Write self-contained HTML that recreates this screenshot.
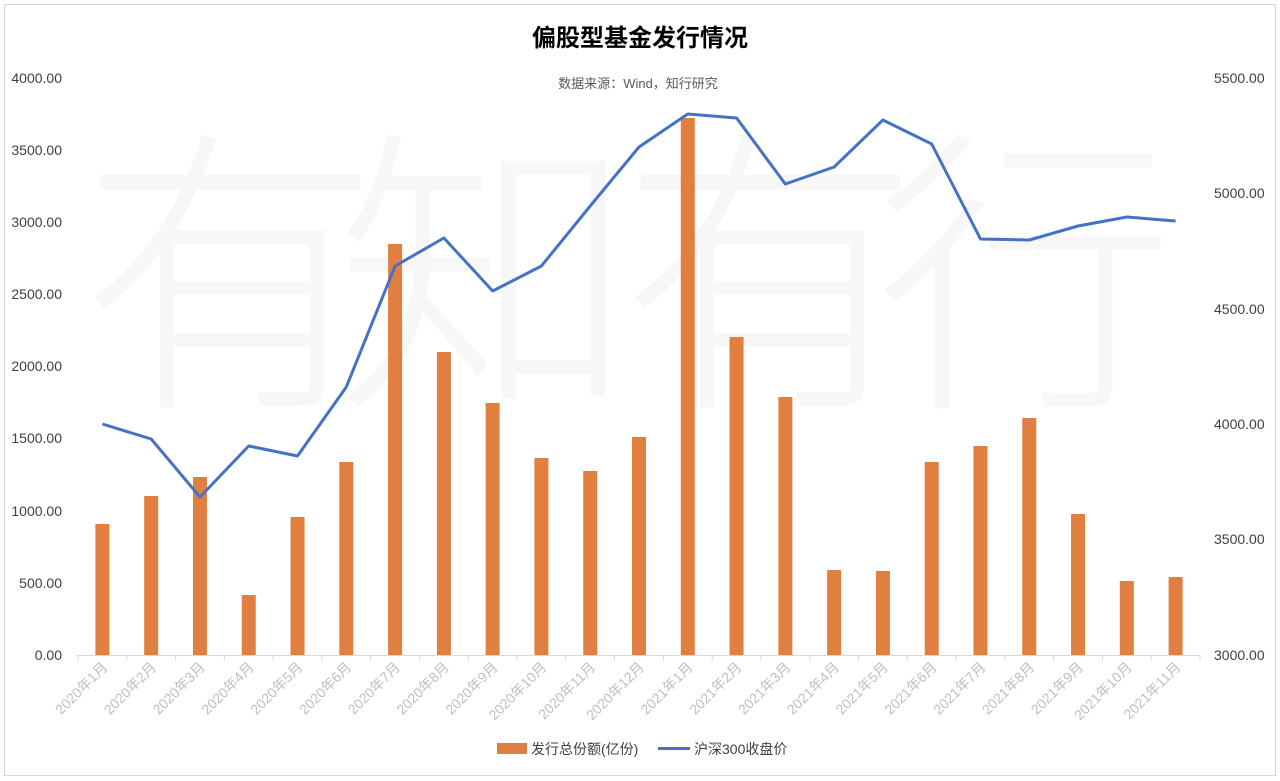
<!DOCTYPE html>
<html><head><meta charset="utf-8"><style>body{margin:0;background:#fff}svg{display:block}text{font-family:"Liberation Sans","Noto Sans CJK SC",sans-serif}</style></head><body>
<svg width="1280" height="781" viewBox="0 0 1280 781" xmlns="http://www.w3.org/2000/svg">
<rect x="4.5" y="4.5" width="1271" height="771" fill="#fff" stroke="#d9d9d9"/>
<g fill="#f7f7f7" font-size="300" style="font-family:'Noto Serif CJK SC',serif;font-weight:300"><text x="80" y="385">有</text><text x="335" y="385">知</text><text x="620" y="385">有</text><text x="875" y="385">行</text></g>
<text x="640" y="46" text-anchor="middle" font-size="24" font-weight="bold" fill="#000">偏股型基金发行情况</text>
<text x="638" y="88" text-anchor="middle" font-size="13" fill="#595959">数据来源：Wind，知行研究</text>
<g font-size="14" fill="#404040" text-anchor="end">
<text x="62" y="660">0.00</text><text x="62" y="588">500.00</text><text x="62" y="516">1000.00</text><text x="62" y="443">1500.00</text><text x="62" y="371">2000.00</text><text x="62" y="299">2500.00</text><text x="62" y="227">3000.00</text><text x="62" y="155">3500.00</text><text x="62" y="83">4000.00</text>
</g>
<g font-size="14" fill="#404040" text-anchor="start">
<text x="1214" y="660">3000.00</text><text x="1214" y="544">3500.00</text><text x="1214" y="429">4000.00</text><text x="1214" y="314">4500.00</text><text x="1214" y="198">5000.00</text><text x="1214" y="83">5500.00</text>
</g>
<line x1="77" y1="655.5" x2="1200" y2="655.5" stroke="#d9d9d9"/>
<g stroke="#d9d9d9" id="ticks"></g>
<g fill="#e07f3f" id="bars"></g>
<polyline id="line" fill="none" stroke="#4472c4" stroke-width="3" stroke-linejoin="round"/>
<g id="labels" font-size="14" fill="#bfbfbf"></g>
<rect x="497" y="743" width="30" height="11" fill="#e07f3f"/>
<text x="531" y="754" font-size="14" fill="#404040">发行总份额(亿份)</text>
<line x1="658" y1="748.5" x2="690" y2="748.5" stroke="#4472c4" stroke-width="3"/>
<text x="694" y="754" font-size="14" fill="#404040">沪深300收盘价</text>
</svg>
<script>
var tops=[524,496,477,595,517,462,244,352,403,458,471,437,118,337,397,570,571,462,446,418,514,581,577];
var ly=[424,439,497,446,456,387,266,238,291,266,206,147,114,118,184,167,120,144,239,240,226,217,221];
var ns="http://www.w3.org/2000/svg",b=document.getElementById('bars'),t=document.getElementById('ticks'),l=document.getElementById('labels'),pts=[];
var w=1122/23;
for(var i=0;i<23;i++){var cx=78+w*(i+0.5);
var r=document.createElementNS(ns,'rect');r.setAttribute('x',cx-7);r.setAttribute('y',tops[i]);r.setAttribute('width',14);r.setAttribute('height',655-tops[i]);b.appendChild(r);
pts.push(cx.toFixed(1)+','+ly[i]);
var y=2020+Math.floor(i/12),m=i%12+1;
var tx=document.createElementNS(ns,'text');tx.setAttribute('text-anchor','end');tx.setAttribute('transform','translate('+(cx+6)+',668) rotate(-45)');tx.textContent=y+'年'+m+'月';l.appendChild(tx);}
for(var i=0;i<=23;i++){var x=78+w*i;var k=document.createElementNS(ns,'line');k.setAttribute('x1',x);k.setAttribute('x2',x);k.setAttribute('y1',655);k.setAttribute('y2',661);t.appendChild(k);}
document.getElementById('line').setAttribute('points',pts.join(' '));
</script>
</body></html>
